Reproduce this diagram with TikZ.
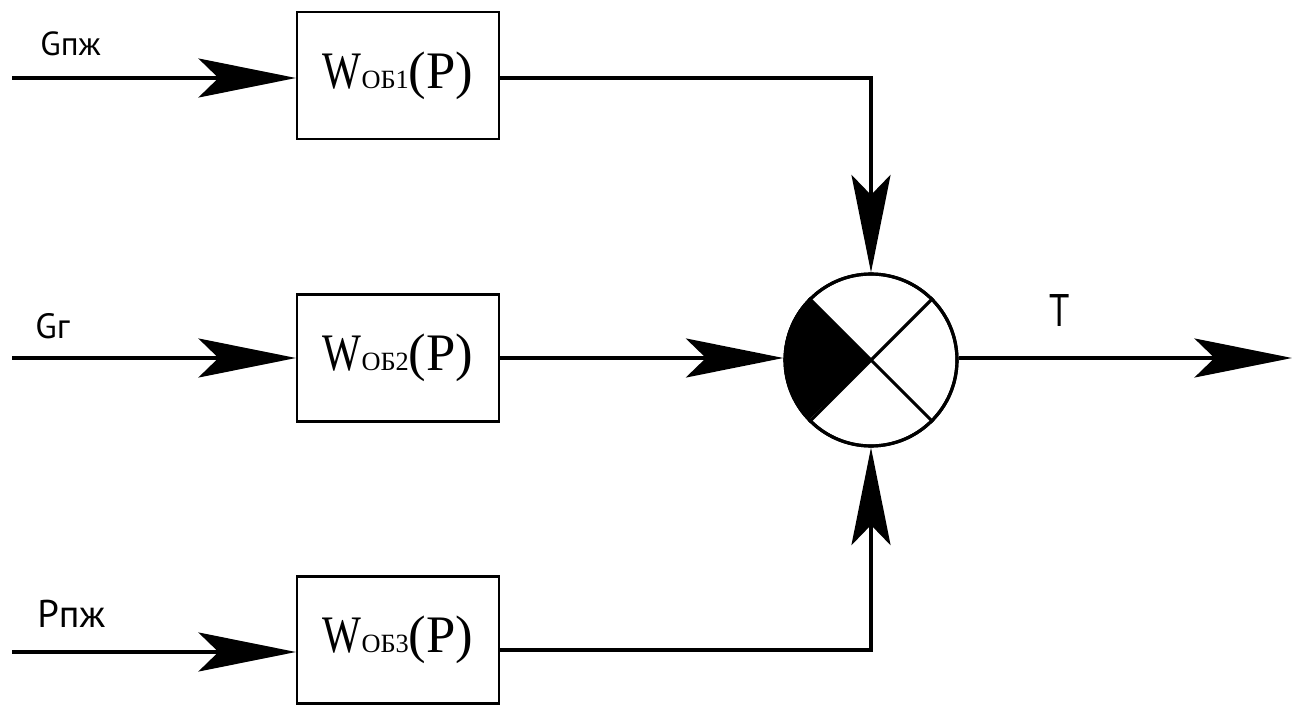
\documentclass[tikz,border=0pt]{standalone}
\usepackage{fontspec}
\setmainfont{Liberation Serif}
\newfontfamily\lblfont{PT Sans}
\usetikzlibrary{arrows.meta}
\newcommand{\wtf}[1]{{\fontsize{30}{30}\selectfont\scalebox{0.78}[1]{W}}{\fontsize{15}{15}\selectfont ОБ#1}{\fontsize{30}{30}\selectfont (P)}}
\begin{document}
\begin{tikzpicture}[x=0.02cm,y=-0.02cm,
  blk/.style={draw,line width=1.2pt,minimum width=4.04cm,minimum height=2.54cm,inner sep=0pt},
  sig/.style={line width=2.3pt,-{Stealth[length=1.95cm,width=0.78cm,inset=0.4cm]}},
  wire/.style={line width=2.3pt},
  lbl/.style={inner sep=0pt,anchor=base west}]
\useasboundingbox (0,0) rectangle (1294,709);
\node[blk] (b1) at (398,75.5) {\wtf{1}};
\node[blk] (b2) at (398,358) {\wtf{2}};
\node[blk] (b3) at (398,640) {\wtf{3}};
\node[circle,draw,line width=1.8pt,minimum size=3.44cm,inner sep=0pt] (s) at (871,360) {};
\fill (s.center) -- (s.135) arc[start angle=135,end angle=225,radius=1.72cm] -- cycle;
\draw[line width=1.8pt] (s.45) -- (s.225) (s.135) -- (s.315);
\draw[line width=1.8pt] (s) circle[radius=1.72cm];
\coordinate (i1) at (12,78);
\coordinate (i2) at (12,358);
\coordinate (i3) at (12,652);
\coordinate (o) at (1292,358);
\draw[sig] (i1) -- (i1 -| b1.west);
\draw[sig] (i2) -- (i2 -| b2.west);
\draw[sig] (i3) -- (i3 -| b3.west);
\coordinate (o1) at (b1.east |- i1);
\coordinate (o3) at (b3.east |- 0,650);
\draw[wire] (o1) -| (s.center |- 0,180);
\draw[sig] (s.center |- 0,170) -- (s.north);
\draw[sig] (b2.east |- i2) -- (s.west |- i2);
\draw[wire] (o3) -| (s.center |- 0,540);
\draw[sig] (s.center |- 0,550) -- (s.south);
\draw[sig] (s.east |- o) -- (o);
\node[lbl,font=\lblfont\fontsize{19}{19}\selectfont] (l1) at (40,56) {Gпж};
\node[lbl,font=\lblfont\fontsize{20}{20}\selectfont] (l2) at (35,338) {Gг};
\node[lbl,font=\lblfont\fontsize{22}{22}\selectfont] (l3) at (37,627) {Pпж};
\node[lbl,font=\lblfont\fontsize{26}{26}\selectfont] (lt) at (1049,327) {\scalebox{0.8}[1]{T}};
\end{tikzpicture}
\end{document}
